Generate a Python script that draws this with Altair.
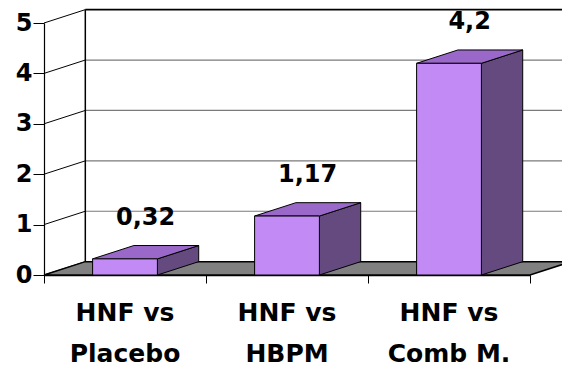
import altair as alt
import pandas as pd

# ---- data -------------------------------------------------------------
categories = ["HNF vs\nPlacebo", "HNF vs\nHBPM", "HNF vs\nComb M."]
values = [0.32, 1.17, 4.2]
y_ticks = [0, 1, 2, 3, 4, 5]

# ---- pseudo-3D geometry (in data units) ------------------------------
DEPTH_X = 0.255   # depth offset along x (category units)
DEPTH_Y = 0.265   # depth offset along y (value units)
BAR_LO, BAR_HI = 0.3, 0.7   # front face extent inside each category slot
N = len(categories)
Y_MAX = max(y_ticks)

FRONT = "#C18AF5"
TOP = "#9A68C8"
SIDE = "#654A80"
FLOOR = "#808080"
FONT = "DejaVu Sans"

x_scale = alt.Scale(domain=[0, N], nice=False, zero=False)
y_scale = alt.Scale(domain=[0, Y_MAX], nice=False, zero=False)

# one axis definition shared by every layer, so the merged axes stay intact
X_AXIS = alt.Axis(
    values=list(range(N + 1)), labels=False, title=None, grid=False,
    domainColor="black", domainWidth=1.5, tickColor="black", tickSize=8,
    tickWidth=1,
)
Y_AXIS = alt.Axis(
    values=y_ticks, title=None, grid=False, format="d",
    domainColor="black", domainWidth=1.2, tickColor="black", tickSize=11,
    tickWidth=1, labelFont=FONT, labelFontSize=24, labelFontWeight="bold",
    labelColor="black", labelPadding=1,
)


def X(field):
    return alt.X(field, scale=x_scale, axis=X_AXIS, title=None)


def Y(field):
    return alt.Y(field, scale=y_scale, axis=Y_AXIS, title=None)


def poly_frame(polys):
    rows = []
    for pid, pts in enumerate(polys):
        pts = pts + [pts[0]]
        for k, (px, py) in enumerate(pts):
            rows.append({"pid": pid, "k": k, "px": px, "py": py})
    return pd.DataFrame(rows)


def polygons(df, fill, stroke="black", width=1):
    return alt.Chart(df).mark_line(
        fill=fill, stroke=stroke, strokeWidth=width, strokeJoin="miter"
    ).encode(
        x=X("px:Q"), y=Y("py:Q"), detail="pid:N", order="k:Q",
    )


# left wall: diagonals running back from each front tick
diag_long = pd.concat([
    pd.DataFrame({"pid": range(len(y_ticks)), "k": 0,
                  "px": 0.0, "py": [float(t) for t in y_ticks]}),
    pd.DataFrame({"pid": range(len(y_ticks)), "k": 1,
                  "px": DEPTH_X, "py": [t + DEPTH_Y for t in y_ticks]}),
])
left_wall = alt.Chart(diag_long).mark_line(color="black", strokeWidth=1).encode(
    x=X("px:Q"), y=Y("py:Q"), detail="pid:N", order="k:Q",
)

# back wall gridlines and edges
grid = pd.DataFrame({
    "x0": [DEPTH_X] * len(y_ticks),
    "x1": [N + DEPTH_X] * len(y_ticks),
    "yy": [t + DEPTH_Y for t in y_ticks],
    "top": [t == Y_MAX for t in y_ticks],
})
back_grid = alt.Chart(grid[~grid.top]).mark_rule(color="#7a7a7a", strokeWidth=1.2).encode(
    x=X("x0:Q"), x2="x1:Q", y=Y("yy:Q"),
)
back_top = alt.Chart(grid[grid.top]).mark_rule(color="black", strokeWidth=1.8).encode(
    x=X("x0:Q"), x2="x1:Q", y=Y("yy:Q"),
)
back_edge_df = pd.DataFrame({"xx": [DEPTH_X], "y0": [DEPTH_Y], "y1": [Y_MAX + DEPTH_Y]})
back_edge = alt.Chart(back_edge_df).mark_rule(color="black", strokeWidth=1.5).encode(
    x=X("xx:Q"), y=Y("y0:Q"), y2="y1:Q",
)

# floor
floor = polygons(
    poly_frame([[(0, 0), (N, 0), (N + DEPTH_X, DEPTH_Y), (DEPTH_X, DEPTH_Y)]]),
    FLOOR, width=1.5,
)

# bars: side, top and front faces
sides, tops = [], []
for i, v in enumerate(values):
    xl, xr = i + BAR_LO, i + BAR_HI
    sides.append([(xr, 0), (xr + DEPTH_X, DEPTH_Y), (xr + DEPTH_X, v + DEPTH_Y), (xr, v)])
    tops.append([(xl, v), (xr, v), (xr + DEPTH_X, v + DEPTH_Y), (xl + DEPTH_X, v + DEPTH_Y)])
bar_side = polygons(poly_frame(sides), SIDE)
bar_top = polygons(poly_frame(tops), TOP)

bars_df = pd.DataFrame({
    "cat": categories,
    "value": values,
    "zero": [0.0] * N,
    "xl": [i + BAR_LO for i in range(N)],
    "xr": [i + BAR_HI for i in range(N)],
    "xc": [i + 0.5 for i in range(N)],
    "xlab": [i + 0.5 + DEPTH_X / 2 for i in range(N)],
    "ylab": [v + DEPTH_Y for v in values],
    "label": [f"{v:g}".replace(".", ",") for v in values],
})
bar_front = alt.Chart(bars_df).mark_rect(
    color=FRONT, stroke="black", strokeWidth=1
).encode(
    x=X("xl:Q"), x2="xr:Q", y=Y("value:Q"), y2="zero:Q",
)

value_labels = alt.Chart(bars_df).mark_text(
    font=FONT, fontSize=24, fontWeight="bold", color="black",
    baseline="middle", dy=-28,
).encode(
    x=X("xlab:Q"), y=Y("ylab:Q"), text="label:N",
)

cat_labels = alt.Chart(bars_df).mark_text(
    font=FONT, fontSize=25, fontWeight="bold", color="black",
    baseline="alphabetic", lineBreak="\n", lineHeight=41, dy=46,
).encode(
    x=X("xc:Q"), y=Y("zero:Q"), text="cat:N",
)

chart = alt.layer(
    left_wall, back_grid, back_top, back_edge, floor,
    bar_side, bar_top, bar_front, value_labels, cat_labels,
).properties(
    width=486, height=252,
    autosize=alt.AutoSizeParams(type="none"),
    padding={"left": 44, "top": 23, "right": 32, "bottom": 93},
    background="white",
).configure_view(strokeWidth=0)

chart.save("out.html", embed_options={"renderer": "svg", "actions": False})
